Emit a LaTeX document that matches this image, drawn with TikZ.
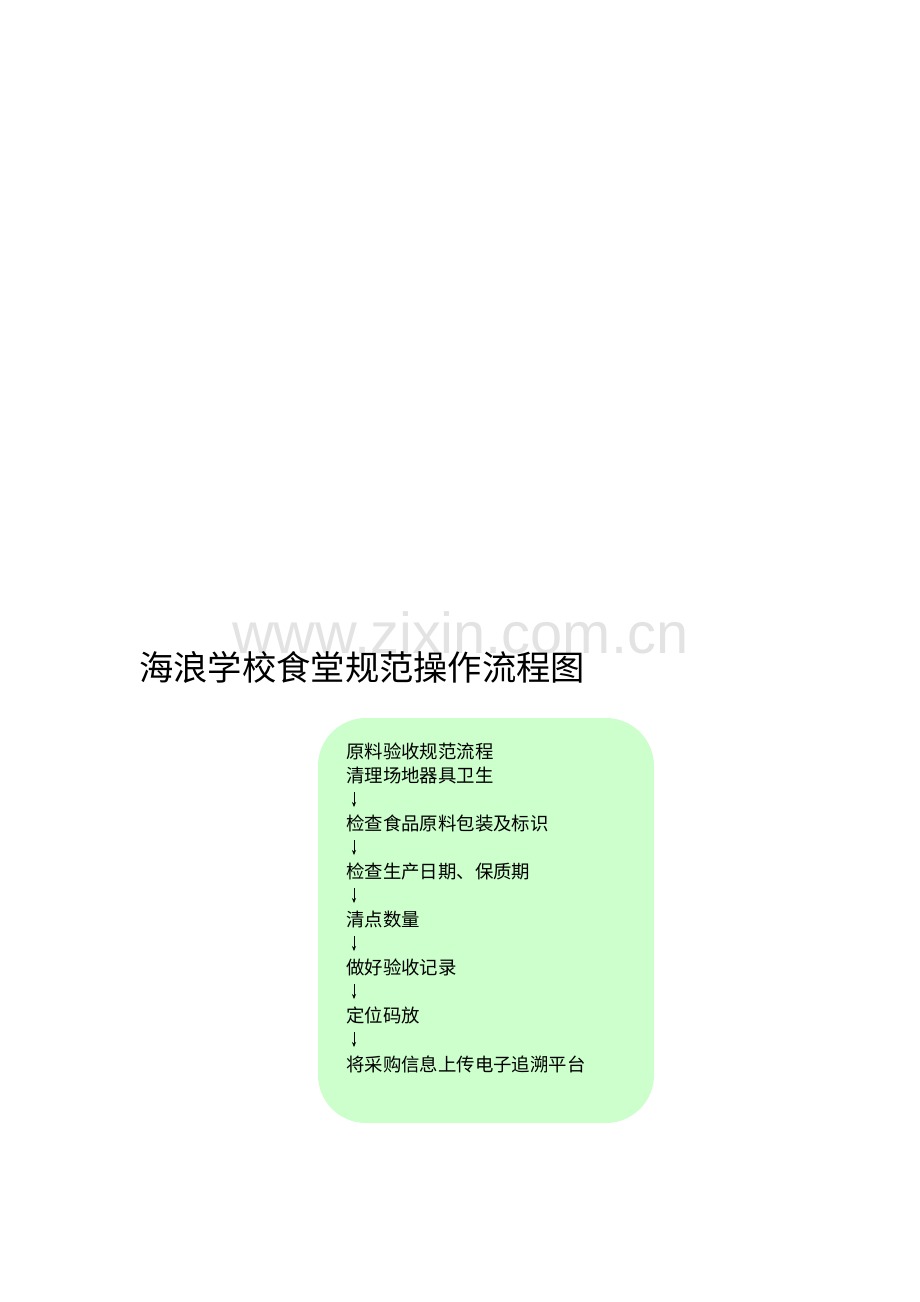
\documentclass[tikz,border=0pt]{standalone}
\usepackage{fontspec}
\setmainfont{Noto Sans CJK SC}
\newfontfamily\wmfont{Liberation Sans}
\usetikzlibrary{arrows.meta}
\definecolor{boxgreen}{HTML}{CCFFCC}
\definecolor{wmgray}{HTML}{E3E3E3}
\begin{document}
\begin{tikzpicture}[x=1pt,y=-1pt,
  stepline/.style={anchor=base west,inner sep=0pt,font=\fontsize{18.4pt}{22pt}\selectfont},
  titletext/.style={anchor=base west,inner sep=0pt,font=\fontsize{34.3pt}{40pt}\selectfont},
  wmtext/.style={anchor=base west,inner sep=0pt,text=wmgray,font=\wmfont\fontsize{57.8pt}{60pt}\selectfont},
  flowarrow/.style={line width=0.7pt,-{Stealth[length=5pt,width=4pt]}}]
\useasboundingbox (0,0) rectangle (920,1302);
\node[wmtext] (wm) at (232,653) {www.zixin.com.cn};
\node[titletext] (title) at (139,680) {海浪学校食堂规范操作流程图};
\fill[boxgreen, rounded corners=48pt] (318,718) rectangle (654,1123);
\node[stepline] (l0) at (346,758) {原料验收规范流程};
\node[stepline] (l1) at (346,782) {清理场地器具卫生};
\node[stepline] (l2) at (346,830) {检查食品原料包装及标识};
\node[stepline] (l3) at (346,878) {检查生产日期、保质期};
\node[stepline] (l4) at (346,926) {清点数量};
\node[stepline] (l5) at (346,974) {做好验收记录};
\node[stepline] (l6) at (346,1022) {定位码放};
\node[stepline] (l7) at (346,1071) {将采购信息上传电子追溯平台};
\foreach \i/\y in {1/792,2/840,3/888,4/936,5/984,6/1032}{
  \coordinate (a\i s) at (354,\y);
  \coordinate (a\i e) at (354,\y+15);
  \draw[flowarrow] (a\i s) -- (a\i e);
}
\end{tikzpicture}
\end{document}
